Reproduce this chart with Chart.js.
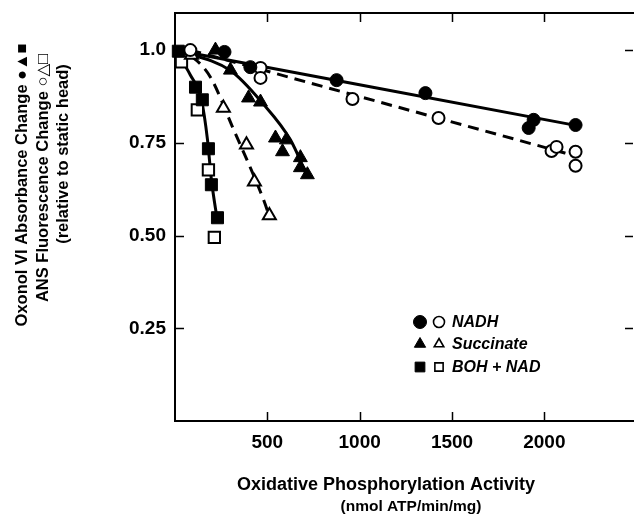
<!DOCTYPE html>
<html>
<head>
<meta charset="utf-8">
<title>Oxidative Phosphorylation Activity</title>
<script src="https://cdn.jsdelivr.net/npm/chart.js"></script>
<style>
  body { margin: 0; background: #fff; overflow: hidden; }
  #wrap { width: 634px; height: 517px; position: relative; }
  #chart { display: block; }
</style>
</head>
<body>
<div id="wrap"><canvas id="chart"></canvas></div>
<script>
// NADH (filled = oxonol VI absorbance, open = ANS fluorescence)
const nadhAbsX = [268, 408, 875, 1356, 1915, 1942, 2169];
const nadhAbsY = [0.995, 0.954, 0.919, 0.884, 0.790, 0.812, 0.798];
const nadhFluX = [83, 463, 463, 961, 1427, 2039, 2066, 2169, 2169];
const nadhFluY = [1.0, 0.952, 0.925, 0.868, 0.817, 0.728, 0.739, 0.726, 0.688];

// Succinate
const succAbsX = [219, 300, 398, 463, 544, 582, 603, 679, 679, 717];
const succAbsY = [1.0, 0.946, 0.871, 0.860, 0.763, 0.726, 0.758, 0.710, 0.683, 0.664];
const succFluX = [89, 262, 387, 430, 511];
const succFluY = [0.987, 0.844, 0.745, 0.645, 0.554];

// BOH + NAD
const bohAbsX = [18, 111, 148, 181, 197, 230];
const bohAbsY = [0.997, 0.900, 0.866, 0.734, 0.637, 0.548];
const bohFluX = [35, 121, 181, 213];
const bohFluY = [0.968, 0.839, 0.677, 0.495];

// fitted curves
const nadhAbsFitX = [0, 2169];
const nadhAbsFitY = [1.0, 0.797];
const nadhFluFitX = [83, 2160];
const nadhFluFitY = [1.0, 0.716];
const succAbsFitX = [0, 300, 474, 625, 717];
const succAbsFitY = [1.0, 0.945, 0.857, 0.758, 0.659];
const succFluFitX = [0, 94, 192, 311, 479, 517];
const succFluFitY = [1.0, 0.981, 0.927, 0.793, 0.597, 0.543];
const bohAbsFitX = [0, 83, 143, 176, 197, 230];
const bohAbsFitY = [1.0, 0.933, 0.866, 0.758, 0.651, 0.538];

// axes
const xTickValues = [500, 1000, 1500, 2000];
const yTickValues = [0.25, 0.5, 0.75, 1.0];
const yTickLabels = ['0.25', '0.50', '0.75', '1.0'];
const legendLabels = ['NADH', 'Succinate', 'BOH + NAD'];
const xTitle = ['Oxidative Phosphorylation Activity', '(nmol ATP/min/mg)'];
const yTitle = ['Oxonol VI Absorbance Change \u25CF\u25B2\u25A0', 'ANS Fluorescence Change \u25CB\u25B3\u25A1', '(relative to static head)'];

const FONT = "'Liberation Sans', Arial, 'DejaVu Sans', sans-serif";

function pts(xs, ys) {
    return xs.map((x, i) => ({ x: x, y: ys[i] }));
}

function markers(label, xs, ys, style, filled, radius) {
    return {
        label: label,
        data: pts(xs, ys),
        showLine: false,
        pointStyle: style,
        pointRadius: radius,
        pointHoverRadius: radius,
        pointBackgroundColor: filled ? '#000' : '#fff',
        pointBorderColor: '#000',
        pointBorderWidth: filled ? 1 : 2,
        order: 1
    };
}

function fitLine(xs, ys, dashed) {
    return {
        data: pts(xs, ys),
        showLine: true,
        pointRadius: 0,
        borderColor: '#000',
        borderWidth: 3,
        borderDash: dashed ? [11, 7] : [],
        cubicInterpolationMode: 'monotone',
        fill: false,
        order: 2
    };
}

// small marker drawing for the legend
function drawMarker(ctx, style, filled, x, y, r) {
    ctx.beginPath();
    if (style === 'circle') {
        ctx.arc(x, y, r, 0, Math.PI * 2);
    } else if (style === 'triangle') {
        ctx.moveTo(x, y - r);
        ctx.lineTo(x + r * 0.87, y + r * 0.5);
        ctx.lineTo(x - r * 0.87, y + r * 0.5);
        ctx.closePath();
    } else {
        ctx.rect(x - r * 0.75, y - r * 0.75, r * 1.5, r * 1.5);
    }
    ctx.fillStyle = filled ? '#000' : '#fff';
    ctx.fill();
    ctx.lineWidth = filled ? 1 : 1.6;
    ctx.strokeStyle = '#000';
    ctx.stroke();
}

const framePlugin = {
    id: 'frame',
    beforeDatasetsDraw(chart) {
        const { ctx, chartArea: a, scales: { x, y } } = chart;
        ctx.save();
        ctx.strokeStyle = '#000';
        ctx.lineWidth = 2;
        ctx.beginPath();
        ctx.moveTo(a.right + 2, a.top);
        ctx.lineTo(a.left, a.top);
        ctx.lineTo(a.left, a.bottom);
        ctx.lineTo(a.right + 2, a.bottom);
        ctx.stroke();

        // inward tick marks on all four sides
        ctx.lineWidth = 1.5;
        ctx.beginPath();
        x.ticks.forEach(t => {
            const px = Math.round(x.getPixelForValue(t.value)) + 0.5;
            ctx.moveTo(px, a.bottom);
            ctx.lineTo(px, a.bottom - 9);
            ctx.moveTo(px, a.top);
            ctx.lineTo(px, a.top + 9);
        });
        y.ticks.forEach(t => {
            const py = Math.round(y.getPixelForValue(t.value)) + 0.5;
            ctx.moveTo(a.left, py);
            ctx.lineTo(a.left + 9, py);
            ctx.moveTo(a.right, py);
            ctx.lineTo(a.right - 8, py);
        });
        ctx.stroke();
        ctx.restore();
    },
    afterDraw(chart) {
        const ctx = chart.ctx;
        ctx.save();
        ctx.fillStyle = '#000';
        ctx.textBaseline = 'middle';
        ctx.textAlign = 'center';

        // x axis title
        ctx.font = 'bold 18px ' + FONT;
        ctx.fillText(xTitle[0], 386, 485);
        ctx.font = 'bold 15.5px ' + FONT;
        ctx.fillText(xTitle[1], 411, 507);

        // y axis title, three rotated lines
        const yCenters = [[22, 185], [43, 178], [63, 154]];
        ctx.font = 'bold 16.5px ' + FONT;
        yTitle.forEach((line, i) => {
            ctx.save();
            ctx.translate(yCenters[i][0], yCenters[i][1]);
            ctx.rotate(-Math.PI / 2);
            ctx.fillText(line, 0, 0);
            ctx.restore();
        });

        // legend
        const styles = ['circle', 'triangle', 'rect'];
        const rowY = [322, 344, 367];
        ctx.textAlign = 'left';
        ctx.font = 'italic bold 16px ' + FONT;
        legendLabels.forEach((lab, i) => {
            drawMarker(ctx, styles[i], true, 420, rowY[i], 6.5);
            drawMarker(ctx, styles[i], false, 439, rowY[i], 5.5);
            ctx.fillStyle = '#000';
            ctx.fillText(lab, 452, rowY[i] + 1);
        });
        ctx.restore();
    }
};

const ctx = document.getElementById('chart').getContext('2d');
const chart = new Chart(ctx, {
    type: 'scatter',
    data: {
        datasets: [
            markers('NADH abs', nadhAbsX, nadhAbsY, 'circle', true, 6.5),
            markers('NADH flu', nadhFluX, nadhFluY, 'circle', false, 6),
            markers('Succinate abs', succAbsX, succAbsY, 'triangle', true, 8),
            markers('Succinate flu', succFluX, succFluY, 'triangle', false, 7.5),
            markers('BOH abs', bohAbsX, bohAbsY, 'rect', true, 8.5),
            markers('BOH flu', bohFluX, bohFluY, 'rect', false, 8),
            fitLine(nadhAbsFitX, nadhAbsFitY, false),
            fitLine(nadhFluFitX, nadhFluFitY, true),
            fitLine(succAbsFitX, succAbsFitY, false),
            fitLine(succFluFitX, succFluFitY, true),
            fitLine(bohAbsFitX, bohAbsFitY, false)
        ]
    },
    options: {
        responsive: true,
        maintainAspectRatio: false,
        animation: false,
        clip: false,
        layout: { autoPadding: false, padding: { top: 13, right: 1, left: 0, bottom: 0 } },
        plugins: {
            legend: { display: false },
            tooltip: { enabled: false }
        },
        scales: {
            x: {
                type: 'linear',
                min: 0,
                max: 2480,
                grid: { display: false, drawTicks: false },
                border: { display: false },
                afterBuildTicks: (axis) => { axis.ticks = xTickValues.map(v => ({ value: v })); },
                afterFit: (axis) => {
                    axis.height = 96;
                    axis.paddingLeft = 0;
                    axis.paddingRight = 0;
                },
                ticks: {
                    color: '#000',
                    padding: 10,
                    maxRotation: 0,
                    font: { family: FONT, size: 19, weight: 'bold' },
                    callback: (v) => String(v)
                }
            },
            y: {
                type: 'linear',
                min: 0,
                max: 1.1,
                grid: { display: false, drawTicks: false },
                border: { display: false },
                afterBuildTicks: (axis) => { axis.ticks = yTickValues.map(v => ({ value: v })); },
                afterFit: (axis) => {
                    axis.width = 175;
                    axis.paddingTop = 0;
                    axis.paddingBottom = 0;
                },
                ticks: {
                    color: '#000',
                    padding: 9,
                    font: { family: FONT, size: 19, weight: 'bold' },
                    callback: (v) => yTickLabels[yTickValues.indexOf(v)]
                }
            }
        }
    },
    plugins: [framePlugin]
});
</script>
</body>
</html>
